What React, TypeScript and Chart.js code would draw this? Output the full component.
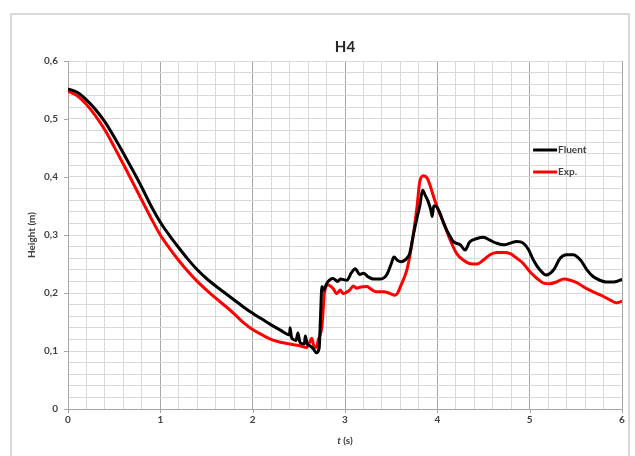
import React, { useEffect, useRef } from "react";
import { Chart, registerables } from "chart.js";

Chart.register(...registerables);

const chartTitle = "H4";
const xAxisLabel = "(s)";
const yAxisLabel = "Height (m)";
const seriesNames = ["Fluent", "Exp."];
const seriesColors = ["#000000", "#ff0000"];

const fluentT = [
  0, 0.1, 0.2, 0.3, 0.4, 0.5, 0.6, 0.7, 0.8, 0.9,
  1.0, 1.1, 1.2, 1.3, 1.4, 1.5, 1.6, 1.7, 1.8, 1.9,
  2.0, 2.1, 2.2, 2.3, 2.4, 2.405, 2.42, 2.44, 2.47, 2.49,
  2.51, 2.53, 2.56, 2.57, 2.59, 2.62, 2.66, 2.69, 2.72, 2.735,
  2.75, 2.77, 2.8, 2.87, 2.92, 2.95, 3.02, 3.07, 3.11, 3.16,
  3.2, 3.25, 3.31, 3.38, 3.45, 3.5, 3.53, 3.57, 3.61, 3.67,
  3.7, 3.74, 3.78, 3.81, 3.84, 3.87, 3.9, 3.93, 3.945, 3.96,
  3.98, 4.03, 4.07, 4.1, 4.14, 4.17, 4.22, 4.25, 4.3, 4.35,
  4.43, 4.5, 4.57, 4.64, 4.72, 4.79, 4.86, 4.93, 4.99, 5.04,
  5.11, 5.18, 5.26, 5.33, 5.4, 5.47, 5.55, 5.62, 5.69, 5.76,
  5.83, 5.91, 5.98, 6.0,
];
const fluentH = [
  0.552, 0.546, 0.533, 0.516, 0.495, 0.469, 0.441, 0.412, 0.382, 0.35,
  0.322, 0.299, 0.278, 0.258, 0.24, 0.225, 0.212, 0.2, 0.188, 0.176,
  0.165, 0.155, 0.145, 0.136, 0.128, 0.14, 0.124, 0.12, 0.118, 0.131,
  0.116, 0.113, 0.112, 0.126, 0.112, 0.109, 0.103, 0.097, 0.105, 0.16,
  0.211, 0.205, 0.216, 0.225, 0.22, 0.224, 0.222, 0.235, 0.242, 0.232,
  0.234, 0.228, 0.224, 0.224, 0.231, 0.25, 0.262, 0.256, 0.254, 0.26,
  0.268, 0.3, 0.33, 0.35, 0.377, 0.368, 0.358, 0.343, 0.332, 0.35,
  0.35, 0.337, 0.32, 0.309, 0.297, 0.289, 0.285, 0.283, 0.274, 0.288,
  0.294, 0.296, 0.291, 0.286, 0.283, 0.286, 0.289, 0.286, 0.274, 0.257,
  0.24, 0.231, 0.24, 0.26, 0.266, 0.266, 0.257, 0.24, 0.228, 0.222,
  0.219, 0.219, 0.222, 0.224,
];

const expT = [
  0, 0.1, 0.2, 0.3, 0.4, 0.5, 0.6, 0.7, 0.8, 0.9,
  1.0, 1.1, 1.2, 1.3, 1.4, 1.5, 1.6, 1.7, 1.8, 1.9,
  2.0, 2.1, 2.2, 2.3, 2.4, 2.51, 2.585, 2.62, 2.64, 2.66,
  2.69, 2.71, 2.75, 2.78, 2.82, 2.87, 2.91, 2.95, 2.98, 3.05,
  3.09, 3.13, 3.16, 3.24, 3.27, 3.34, 3.42, 3.49, 3.54, 3.57,
  3.6, 3.67, 3.72, 3.78, 3.81, 3.85, 3.89, 3.92, 3.96, 4.01,
  4.07, 4.14, 4.21, 4.28, 4.35, 4.43, 4.5, 4.57, 4.64, 4.72,
  4.79, 4.86, 4.93, 5.0, 5.08, 5.15, 5.22, 5.29, 5.37, 5.44,
  5.51, 5.58, 5.65, 5.73, 5.8, 5.87, 5.94, 6.0,
];
const expH = [
  0.548, 0.54, 0.525, 0.505, 0.481, 0.452, 0.422, 0.391, 0.36, 0.329,
  0.3, 0.277, 0.256, 0.237, 0.22, 0.205, 0.191, 0.178, 0.164, 0.149,
  0.137, 0.128, 0.12, 0.115, 0.112, 0.109, 0.106, 0.116, 0.122, 0.11,
  0.106, 0.119, 0.142, 0.203, 0.214, 0.208, 0.199, 0.205, 0.199, 0.205,
  0.212, 0.208, 0.21, 0.211, 0.208, 0.202, 0.202, 0.199, 0.196, 0.2,
  0.211, 0.24, 0.28, 0.349, 0.392, 0.402, 0.398, 0.386, 0.366, 0.343,
  0.32, 0.291, 0.268, 0.257, 0.251, 0.25, 0.257, 0.266, 0.27, 0.27,
  0.268, 0.26, 0.251, 0.237, 0.225, 0.217, 0.216, 0.219, 0.224, 0.222,
  0.218, 0.211, 0.205, 0.199, 0.194, 0.188, 0.183, 0.186,
];

const xMin = 0;
const xMax = 6;
const xMinorStep = 0.2;
const yMin = 0;
const yMax = 0.6;
const yMinorStep = 0.02;

const FONT = "Lato, 'Open Sans', sans-serif";
const TEXT = "#404040";

function pairs(ts: number[], hs: number[]) {
  const n = Math.min(ts.length, hs.length);
  const out: { x: number; y: number }[] = [];
  for (let i = 0; i < n; i++) out.push({ x: ts[i], y: hs[i] });
  return out;
}

const isMultiple = (v: number, step: number) =>
  Math.abs(v / step - Math.round(v / step)) < 1e-6;

const overlay = {
  id: "overlay",
  afterDraw(chart: any) {
    const { ctx, chartArea } = chart;
    const xs = chart.scales.x;
    const ys = chart.scales.y;
    const { left, right, top, bottom } = chartArea;
    ctx.save();
    // major tick marks
    ctx.strokeStyle = "#a6a6a6";
    ctx.lineWidth = 1;
    for (let t = xMin; t <= xMax + 1e-9; t += 1) {
      const px = Math.round(xs.getPixelForValue(t)) + 0.5;
      ctx.beginPath();
      ctx.moveTo(px, bottom);
      ctx.lineTo(px, bottom + 4);
      ctx.stroke();
    }
    for (let k = 0; k <= 6; k++) {
      const py = Math.round(ys.getPixelForValue(k * 0.1)) + 0.5;
      ctx.beginPath();
      ctx.moveTo(left - 4, py);
      ctx.lineTo(left, py);
      ctx.stroke();
    }
    // title
    ctx.fillStyle = "#262626";
    ctx.textAlign = "center";
    ctx.textBaseline = "middle";
    ctx.font = `bold 15px ${FONT}`;
    ctx.fillText(chartTitle, (left + right) / 2, 47);
    // y axis title
    ctx.font = `bold 10px ${FONT}`;
    ctx.fillStyle = TEXT;
    ctx.save();
    ctx.translate(32, (top + bottom) / 2);
    ctx.rotate(-Math.PI / 2);
    ctx.fillText(yAxisLabel, 0, 0);
    ctx.restore();
    // x axis title: italic t + (s)
    const italic = `italic bold 10px ${FONT}`;
    const normal = `bold 10px ${FONT}`;
    ctx.font = italic;
    const wT = ctx.measureText("t ").width;
    ctx.font = normal;
    const wS = ctx.measureText(xAxisLabel).width;
    const startX = (left + right) / 2 - (wT + wS) / 2;
    ctx.textAlign = "left";
    ctx.font = italic;
    ctx.fillText("t ", startX, 441);
    ctx.font = normal;
    ctx.fillText(xAxisLabel, startX + wT, 441);
    // legend
    const lx0 = left + (right - left) * 0.8395;
    const lx1 = lx0 + 24;
    const rows = [150, 172];
    ctx.font = `bold 10px ${FONT}`;
    for (let i = 0; i < seriesNames.length; i++) {
      ctx.strokeStyle = seriesColors[i];
      ctx.lineWidth = 3;
      ctx.beginPath();
      ctx.moveTo(lx0, rows[i]);
      ctx.lineTo(lx1, rows[i]);
      ctx.stroke();
      ctx.fillStyle = TEXT;
      ctx.textAlign = "left";
      ctx.fillText(seriesNames[i], lx1 + 1, rows[i]);
    }
    ctx.restore();
  },
};

export default function App() {
  const ref = useRef<HTMLCanvasElement | null>(null);
  useEffect(() => {
    if (!ref.current) return;
    const chart = new Chart(ref.current, {
      type: "line",
      data: {
        datasets: [
          {
            label: seriesNames[0],
            data: pairs(fluentT, fluentH),
            borderColor: seriesColors[0],
            backgroundColor: seriesColors[0],
            borderWidth: 3,
            pointRadius: 0,
            cubicInterpolationMode: "monotone",
            fill: false,
          },
          {
            label: seriesNames[1],
            data: pairs(expT, expH),
            borderColor: seriesColors[1],
            backgroundColor: seriesColors[1],
            borderWidth: 3,
            pointRadius: 0,
            cubicInterpolationMode: "monotone",
            fill: false,
          },
        ],
      },
      options: {
        animation: false,
        responsive: false,
        maintainAspectRatio: false,
        layout: { padding: { top: 61, right: 13, bottom: 0, left: 0 } },
        plugins: {
          legend: { display: false },
          title: { display: false },
          tooltip: { enabled: false },
        },
        scales: {
          x: {
            type: "linear",
            min: xMin,
            max: xMax,
            afterFit: (s: any) => {
              s.height = 47;
            },
            ticks: {
              stepSize: xMinorStep,
              autoSkip: false,
              maxRotation: 0,
              maxTicksLimit: 100,
              padding: 5,
              color: TEXT,
              font: { family: FONT, size: 10, weight: "bold" },
              callback: (v: any) =>
                isMultiple(Number(v), 1) ? String(Math.round(Number(v))) : "",
            },
            grid: {
              drawTicks: false,
              color: (c: any) =>
                c.tick && isMultiple(c.tick.value, 1) ? "#a6a6a6" : "#d9d9d9",
              lineWidth: 1,
            },
            border: { color: "#a6a6a6" },
          },
          y: {
            type: "linear",
            min: yMin,
            max: yMax,
            afterFit: (s: any) => {
              s.width = 68;
            },
            ticks: {
              stepSize: yMinorStep,
              autoSkip: false,
              maxTicksLimit: 100,
              padding: 10,
              color: TEXT,
              font: { family: FONT, size: 10, weight: "bold" },
              callback: (v: any) => {
                const n = Number(v);
                if (!isMultiple(n, 0.1)) return "";
                if (Math.abs(n) < 1e-9) return "0";
                return n.toFixed(1).replace(".", ",");
              },
            },
            grid: {
              drawTicks: false,
              color: "#d9d9d9",
              lineWidth: 1,
            },
            border: { color: "#a6a6a6" },
          },
        },
      },
      plugins: [overlay],
    } as any);
    return () => chart.destroy();
  }, []);

  return (
    <div
      style={{
        position: "fixed",
        left: 0,
        top: 0,
        width: 635,
        height: 456,
        background: "#ffffff",
        overflow: "hidden",
      }}
    >
      <div
        style={{
          position: "absolute",
          left: 10,
          top: 13,
          width: 620,
          height: 460,
          border: "2px solid #d9d9d9",
          boxSizing: "border-box",
        }}
      />
      <canvas
        ref={ref}
        width={635}
        height={456}
        style={{ position: "absolute", left: 0, top: 0, width: 635, height: 456 }}
      />
    </div>
  );
}
